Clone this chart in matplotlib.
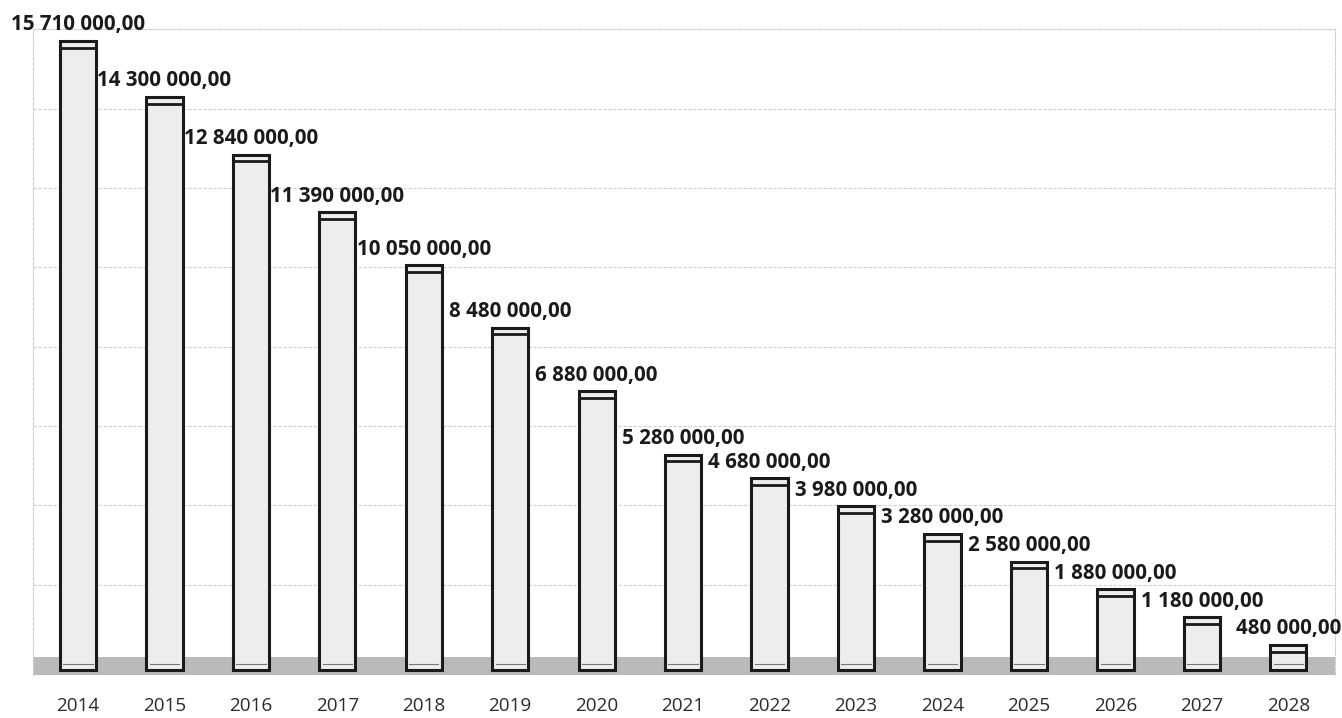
import matplotlib

matplotlib.use("Agg")
import matplotlib.pyplot as plt  # noqa: E402
from matplotlib.ticker import MultipleLocator  # noqa: E402

years = ["2014", "2015", "2016", "2017", "2018", "2019", "2020", "2021",
         "2022", "2023", "2024", "2025", "2026", "2027", "2028"]
values = [15710000, 14300000, 12840000, 11390000, 10050000, 8480000, 6880000,
          5280000, 4680000, 3980000, 3280000, 2580000, 1880000, 1180000, 480000]

INK = "#1a1a1a"
GRID = "#cfcfcf"
FLOOR = "#bababa"
FACE = "#ededed"

BAR_W = 0.42
CAP = 170000        # depth of the top face of each bar
BASE = -150000      # bars sit slightly into the floor
FLOOR_LO, FLOOR_HI = -280000, 180000


def money(v):
    s = f"{v:,.2f}"
    return s.replace(",", " ").replace(".", ",")


plt.rcParams["font.family"] = ["Open Sans", "DejaVu Sans"]
fig = plt.figure(figsize=(13.42, 7.18), dpi=100)
ax = fig.add_axes([0.0246, 0.0598, 0.9702, 0.8993])
ax.set_xlim(-0.52, 14.54)
ax.set_ylim(FLOOR_LO, 16000000)

# back wall grid
ax.yaxis.set_major_locator(MultipleLocator(2000000))
ax.yaxis.grid(True, color=GRID, linewidth=0.8, linestyle=(0, (3, 1.5)))
ax.set_axisbelow(True)
for side in ("left", "right", "top"):
    ax.spines[side].set_color(GRID)
    ax.spines[side].set_linewidth(0.8)
    ax.spines[side].set_linestyle((0, (3, 1.5)))
ax.spines["bottom"].set_visible(False)
ax.set_yticklabels([])
ax.tick_params(axis="y", length=0)

# floor
ax.axhspan(FLOOR_LO, FLOOR_HI, color=FLOOR, linewidth=0, zorder=1)

xs = list(range(len(years)))
heights = [v - BASE for v in values]
ax.bar(xs, heights, bottom=BASE, width=BAR_W, color=FACE,
       edgecolor=INK, linewidth=2.2, zorder=3)

for x, v in zip(xs, values):
    # top face edge and the floor line seen through the bar
    ax.plot([x - BAR_W / 2, x + BAR_W / 2], [v - CAP, v - CAP],
            color=INK, linewidth=2.0, zorder=4, solid_capstyle="butt")
    ax.plot([x - BAR_W / 2 + 0.04, x + BAR_W / 2 - 0.04], [0, 0],
            color="#777777", linewidth=0.8, zorder=4)
    ax.annotate(money(v), (x, v), textcoords="offset points", xytext=(0, 4),
                ha="center", va="bottom", fontsize=14.8, fontweight="bold",
                color=INK, zorder=5, annotation_clip=False)

ax.set_xticks(xs)
ax.set_xticklabels(years, fontsize=13.6, color="#2a2a2a")
ax.tick_params(axis="x", length=0, pad=16)

fig.savefig("out.png", dpi=100, facecolor="white")
